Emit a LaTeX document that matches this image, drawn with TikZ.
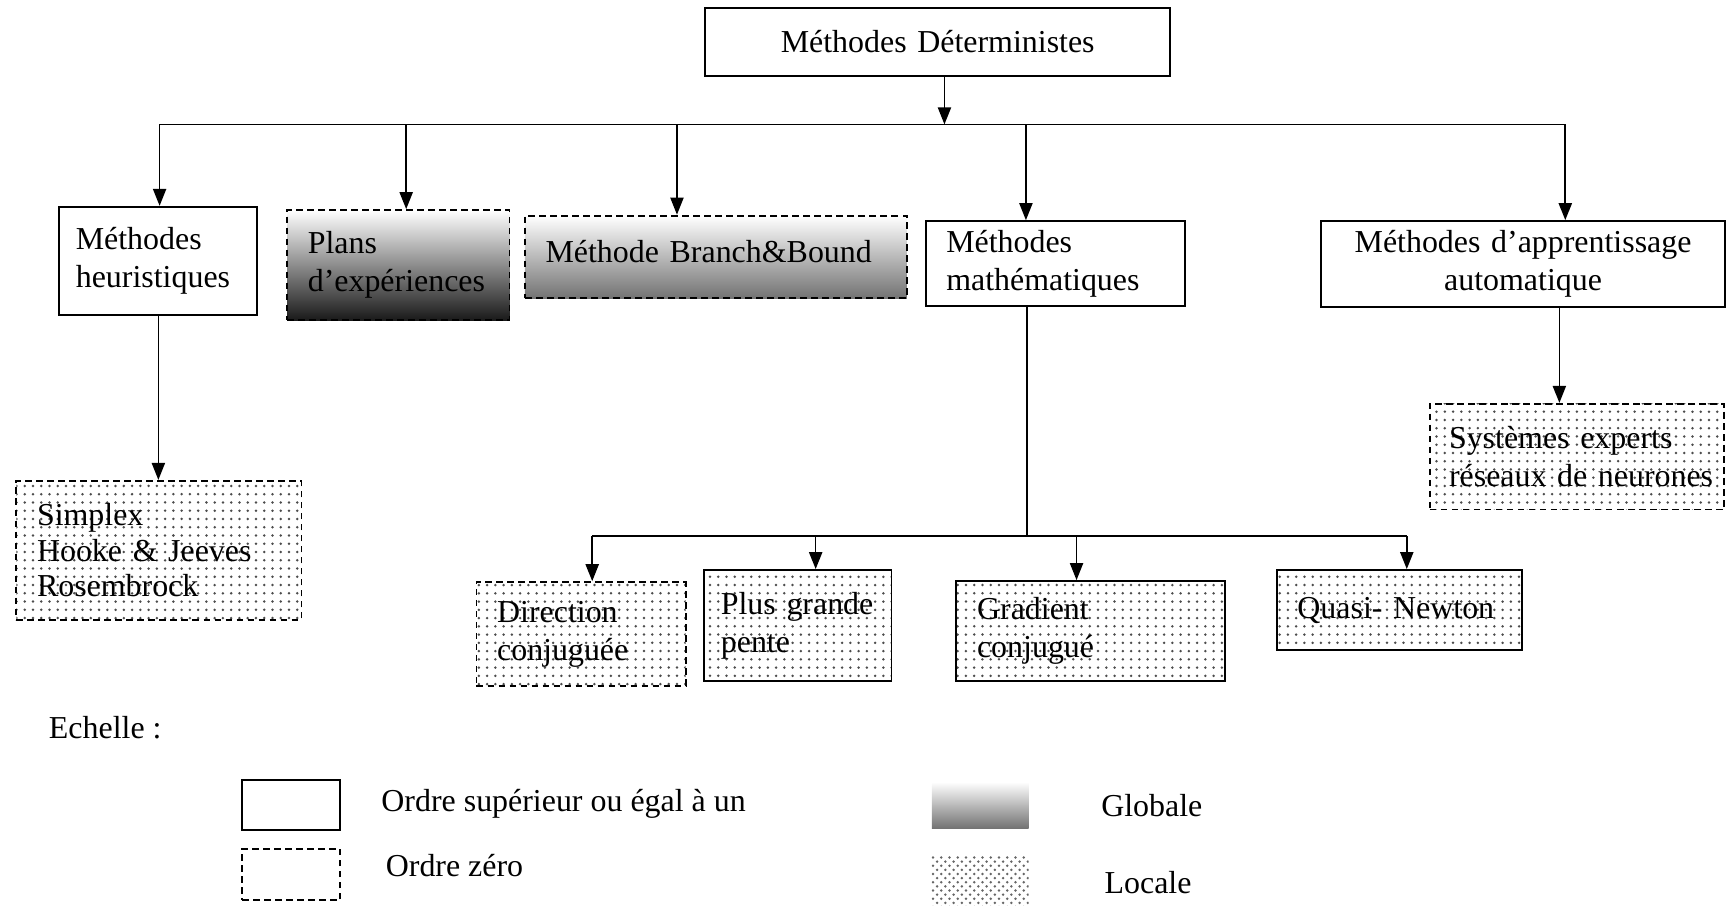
\documentclass[tikz,border=0pt]{standalone}
\usepackage{fontspec}
\setmainfont{Liberation Serif}
\usetikzlibrary{arrows.meta,patterns}
\hyphenpenalty=10000
\exhyphenpenalty=10000
\newcommand{\fsz}{\fontsize{11.6}{13.8}\selectfont}
\begin{document}
\begin{tikzpicture}[x=0.4pt,y=-0.4pt,
  bx/.style={draw, line width=0.7pt, inner xsep=7.5pt, inner ysep=0pt, anchor=north west, align=left, font=\fsz},
  dsh/.style={dash pattern=on 2.4pt off 1.6pt},
  dotf/.style={pattern=dots, pattern color=black!70},
  arr/.style={line width=0.6pt, -{Triangle[width=4.8pt,length=6.2pt]}},
  ln/.style={line width=0.6pt},
  txt/.style={font=\fsz, anchor=west, inner sep=0pt}]
\useasboundingbox (0,0) rectangle (1568,824);

% top
\node[bx, align=center, minimum width=168.8pt, minimum height=24.8pt, text width=153.8pt] (top) at (640,6) {Méthodes Déterministes};

% level 1
\node[bx, inner xsep=6pt, minimum width=72pt, minimum height=39.2pt, text width=60pt] (heur) at (53,187) {Méthodes\\heuristiques};
\node[bx, dsh, top color=white, bottom color=black!90, minimum width=80.8pt, minimum height=40pt, text width=65.8pt] (plans) at (260,190) {Plans\\d’expériences};
\node[bx, dsh, top color=white, bottom color=black!55, minimum width=138.8pt, minimum height=30pt, text width=123.8pt] (bb) at (476,195) {\raisebox{4pt}{Méthode Branch\&Bound}};
\node[bx, minimum width=94.4pt, minimum height=30.8pt, text width=79.4pt] (math) at (840,200) {Méthodes\\mathématiques};
\node[bx, align=center, minimum width=147pt, minimum height=31.2pt, text width=132pt] (app) at (1199,200) {Méthodes d’apprentissage\\automatique};

% level 2
\node[bx, dsh, dotf, minimum width=103.6pt, minimum height=50.4pt, text width=88.6pt, font=\fontsize{11.6}{13}\selectfont] (simp) at (14,436) {Simplex\\Hooke \& Jeeves\\Rosembrock};
\node[bx, dsh, dotf, inner xsep=4pt, minimum width=107pt, minimum height=38.4pt, text width=99pt] (sys) at (1298,366) {\hspace*{3pt}Systèmes experts\\\hspace*{3pt}réseaux de neurones};
\node[bx, dsh, dotf, minimum width=76pt, minimum height=37.6pt, text width=61pt] (dir) at (432,528) {Direction\\conjuguée};
\node[bx, dotf, inner xsep=6pt, minimum width=68pt, minimum height=40.4pt, text width=56pt] (plus) at (639,517) {Plus grande\\pente};
\node[bx, dotf, minimum width=97.6pt, minimum height=36.4pt, text width=82.6pt] (grad) at (868,527) {Gradient\\conjugué};
\node[bx, dotf, minimum width=89.2pt, minimum height=29.2pt, text width=74.2pt] (quasi) at (1159,517) {Quasi- Newton};

% first bus
\coordinate (t0) at (858,113);
\coordinate (b1) at (145,113);
\coordinate (b2) at (369,113);
\coordinate (b3) at (615,113);
\coordinate (b4) at (932,113);
\coordinate (b5) at (1422,113);
\draw[arr] (top.south -| t0) -- (t0);
\draw[ln] (b1) -- (b5);
\draw[arr] (b1) -- (b1 |- heur.north);
\draw[arr] (b2) -- (b2 |- plans.north);
\draw[arr] (b3) -- (b3 |- bb.north);
\draw[arr] (b4) -- (b4 |- math.north);
\draw[arr] (b5) -- (b5 |- app.north);

% heuristiques -> simplex
\draw[arr] (heur.south) -- (heur.south |- simp.north);
% apprentissage -> systemes
\path (app.south) ++(33,0) coordinate (a1);
\draw[arr] (a1) -- (a1 |- sys.north);

% second bus
\path (math.south) ++(-26,0) coordinate (m1);
\coordinate (c1) at (538,487);
\coordinate (c2) at (741,487);
\coordinate (c3) at (978,487);
\coordinate (c4) at (1278,487);
\draw[ln] (m1) -- (m1 |- c1);
\draw[ln] (c1) -- (c4);
\draw[arr] (c1) -- (c1 |- dir.north);
\draw[arr] (c2) -- (c2 |- plus.north);
\draw[arr] (c3) -- (c3 |- grad.north);
\draw[arr] (c4) -- (c4 |- quasi.north);

% legend
\node[txt] (ech) at (44,661) {Echelle :};
\node[draw, line width=0.7pt, anchor=north west, minimum width=35.6pt, minimum height=18pt, inner sep=0pt] (lsol) at (219,708) {};
\node[txt] (tsol) at (346,730) {Ordre supérieur ou égal à un};
\node[draw, dsh, line width=0.7pt, anchor=north west, minimum width=35.6pt, minimum height=18.8pt, inner sep=0pt] (ldsh) at (219,770) {};
\node[txt] (tdsh) at (350,786) {Ordre zéro};
\node[anchor=north west, top color=white, bottom color=black!55, minimum width=35.2pt, minimum height=16.8pt, inner sep=0pt] (lglo) at (846,710) {};
\node[txt] (tglo) at (1000,732) {Globale};
\node[anchor=north west, pattern=crosshatch dots, pattern color=black!60, minimum width=35.2pt, minimum height=18pt, inner sep=0pt] (lloc) at (846,777) {};
\node[txt] (tloc) at (1003,802) {Locale};
\end{tikzpicture}
\end{document}
